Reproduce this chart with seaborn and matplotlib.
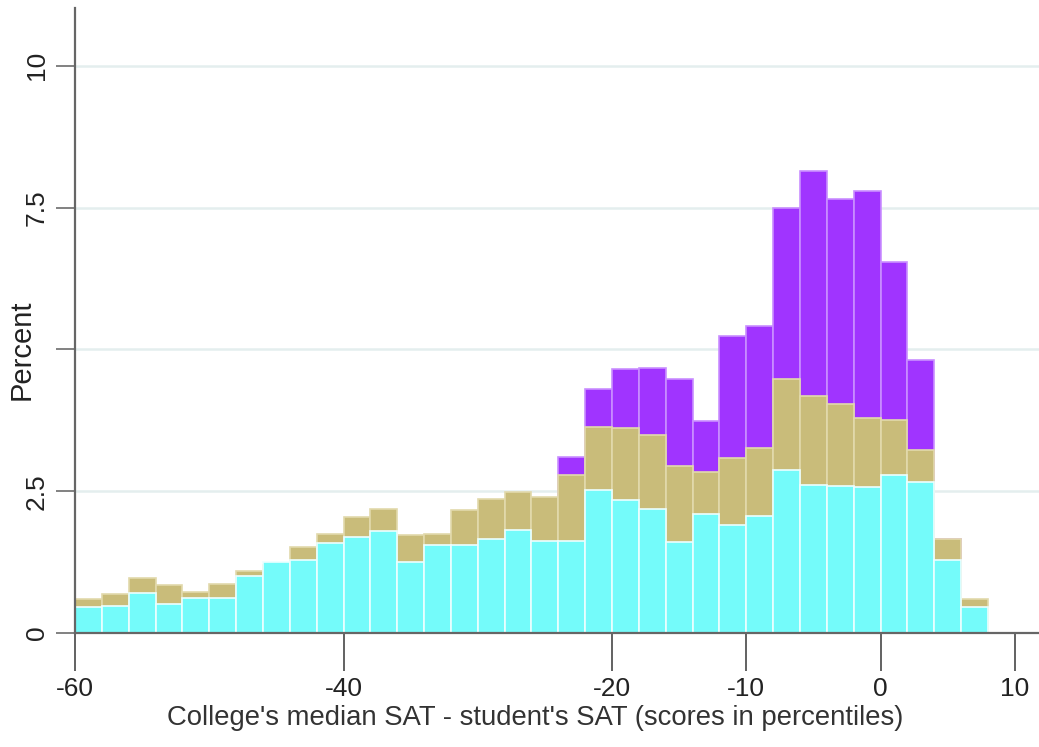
import numpy as np
import pandas as pd
import matplotlib
matplotlib.use("Agg")
import matplotlib.pyplot as plt
import seaborn as sns

# Histogram bins: 2-percentile-wide bins from -60 to 8
bin_edges = list(range(-60, 10, 2))
bin_centers = [e + 1 for e in bin_edges[:-1]]

# Percent of students per bin, one array per group (drawn back to front)
pct_purple = [0, 0, 0, 0, 0, 0, 0, 0, 0, 0, 0, 0, 0, 0, 0, 0, 0, 0,
              3.11, 4.30, 4.66, 4.68, 4.47, 3.74, 5.24, 5.41, 7.49, 8.14,
              7.65, 7.79, 6.54, 4.81, 1.66, 0]
pct_khaki = [0.60, 0.69, 0.97, 0.85, 0.73, 0.87, 1.10, 1.20, 1.52, 1.75,
             2.04, 2.19, 1.73, 1.75, 2.16, 2.37, 2.49, 2.40, 2.78, 3.64,
             3.61, 3.49, 2.94, 2.84, 3.08, 3.26, 4.47, 4.17, 4.04, 3.79,
             3.75, 3.23, 1.66, 0.60]
pct_cyan = [0.46, 0.47, 0.71, 0.52, 0.62, 0.62, 1.01, 1.26, 1.29, 1.58,
            1.69, 1.80, 1.25, 1.55, 1.55, 1.65, 1.81, 1.63, 1.63, 2.53,
            2.34, 2.19, 1.61, 2.10, 1.90, 2.07, 2.87, 2.61, 2.59, 2.58,
            2.78, 2.66, 1.28, 0.45]

x_ticks = [-60, -40, -20, -10, 0, 10]
y_ticks = [0, 2.5, 5, 7.5, 10]
y_tick_labels = ["0", "2.5", "", "7.5", "10"]
x_label = "College's median SAT - student's SAT (scores in percentiles)"
y_label = "Percent"

n = len(bin_centers)
df = pd.DataFrame({
    "diff": bin_centers * 3,
    "pct": pct_purple + pct_khaki + pct_cyan,
    "group": ["purple"] * n + ["khaki"] * n + ["cyan"] * n,
})

styles = [
    ("purple", "#a034ff", "#c98fff"),
    ("khaki", "#c9bc7a", "#e2d9ac"),
    ("cyan", "#74fbfa", "#ecffff"),
]

sns.set_theme(style="white")
plt.rcParams["font.family"] = ["Liberation Sans", "DejaVu Sans"]

fig = plt.figure(figsize=(10.39, 7.47), dpi=100)
ax = fig.add_axes([75 / 1039, (747 - 633) / 747, (1039 - 75) / 1039, (633 - 8) / 747])

for name, face, edge in styles:
    sns.histplot(data=df[df["group"] == name], x="diff", weights="pct",
                 bins=bin_edges, color=face, alpha=1, edgecolor=edge,
                 linewidth=1.2, ax=ax, zorder=3)

ax.set_xlim(-60, 11.8)
ax.set_ylim(0, 11.02)

ax.set_yticks(y_ticks)
ax.set_yticklabels(y_tick_labels, rotation=90, va="center", fontsize=19,
                   color="#222222")
ax.set_xticks(x_ticks)
ax.set_xticklabels([str(t) for t in x_ticks], fontsize=19, color="#222222")

ax.tick_params(axis="x", length=27, width=1.3, color="#555555", pad=5,
               direction="out", bottom=True)
ax.tick_params(axis="y", length=14, width=1.3, color="#777777", pad=5,
               direction="out", left=True)

ax.yaxis.grid(True, color="#e4eeee", linewidth=1.8)
ax.xaxis.grid(False)
ax.set_axisbelow(True)

for side in ("top", "right"):
    ax.spines[side].set_visible(False)
for side in ("left", "bottom"):
    ax.spines[side].set_color("#666666")
    ax.spines[side].set_linewidth(1.6)
    ax.spines[side].set_zorder(5)

ax.set_xlabel(x_label, fontsize=19.8, color="#333333")
ax.xaxis.set_label_coords((535 - 75) / 964, (633 - 705) / 625)
ax.xaxis.label.set_va("top")
ax.set_ylabel(y_label, fontsize=21, color="#222222")
ax.yaxis.set_label_coords((36 - 75) / 964, 5 / 11.02)

fig.savefig("out.png", dpi=100)
